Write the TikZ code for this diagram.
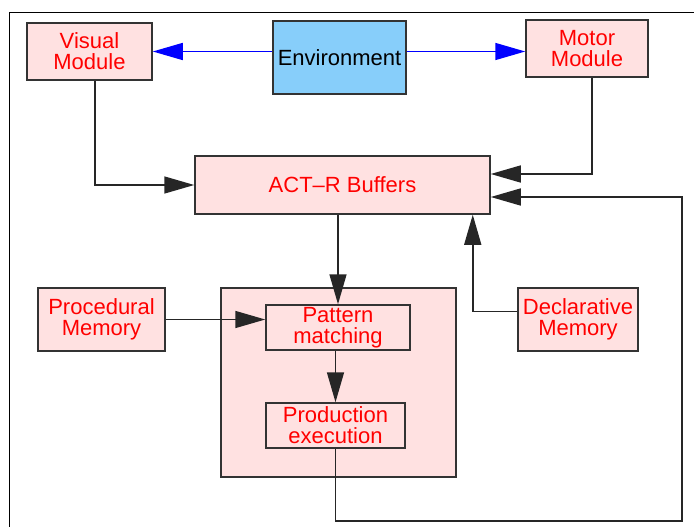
\documentclass[tikz,border=0pt]{standalone}
\usepackage{fontspec}
\setmainfont{Liberation Sans}
\usepackage{xcolor}
\usetikzlibrary{arrows.meta}
\definecolor{boxpink}{RGB}{255,225,225}
\definecolor{envblue}{RGB}{135,206,250}

\begin{document}
\begin{tikzpicture}[x=1pt,y=-1pt,>={Triangle[length=30pt,width=17pt]},
  module/.style={draw=black!80,line width=1.5pt,fill=boxpink,text=red,align=center,inner sep=0pt,
    font=\fontsize{22}{21}\selectfont},
  link/.style={->,line width=1.5pt,black!85},
  envlink/.style={->,line width=1.5pt,blue}]
\useasboundingbox(0,0)rectangle(694,527);
\draw[line width=0.8pt](9,527)--(9,12)--(694,12);
% modules
\node[module,minimum width=125pt,minimum height=57pt](visual)at(89.5,51.5){Visual\\Module};
\node[module,fill=envblue,text=black,minimum width=133pt,minimum height=73pt](env)at(339.5,57.5){Environment};
\node[module,minimum width=122pt,minimum height=57pt](motor)at(587,48.5){Motor\\Module};
\node[module,minimum width=295pt,minimum height=58pt](buffers)at(342.5,185){ACT--R Buffers};
\node[module,minimum width=127pt,minimum height=63pt](procedural)at(101.5,319.5){Procedural\\Memory};
\node[module,minimum width=235pt,minimum height=189pt](matcher)at(338.5,382.5){};
\node[module,minimum width=144pt,minimum height=45pt](pattern)at(338,327.5){Pattern\\matching};
\node[module,minimum width=139pt,minimum height=45pt](production)at(335.5,425.5){Production\\execution};
\node[module,minimum width=120pt,minimum height=63pt](declarative)at(578,319.5){Declarative\\Memory};
% connectors
\draw[envlink](env.west|-visual.east)--(visual.east);
\draw[envlink](env.east|-visual.east)--(motor.west|-visual.east);
\draw[link]([xshift=5.5pt]visual.south)|-(buffers.west);
\draw[link]([xshift=5pt]motor.south)|-([yshift=11pt]buffers.east);
\draw[link](buffers.south-|pattern.north)--(pattern.north);
\draw[link](procedural.east)--(pattern.west|-procedural.east);
\draw[link](pattern.south-|production.north)--(production.north);
\draw[link]([yshift=8pt]declarative.west)-|([xshift=-18pt]buffers.south east);
\coordinate(loop)at(682,521);
\draw[link](production.south)|-(loop)|-([yshift=-12pt]buffers.east);
\end{tikzpicture}
\end{document}
